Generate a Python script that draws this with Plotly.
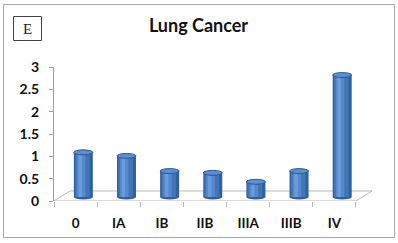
import plotly.graph_objects as go

# ---- data ----
stages = ["0", "IA", "IB", "IIB", "IIIA", "IIIB", "IV"]
values = [1.0, 0.92, 0.58, 0.54, 0.34, 0.58, 2.73]
y_ticks = [0, 0.5, 1, 1.5, 2, 2.5, 3]
y_tick_text = ["0", "0.5", "1", "1.5", "2", "2.5", "3"]
title_text = "Lung Cancer"
panel_label = "E"

# ---- styling / geometry constants ----
W, H = 398, 243
ML, MR, MT, MB = 54, 26, 67, 42
n = len(stages)
depth_x = 0.371          # 3D floor depth in category units
depth_y = 0.224          # 3D floor depth in value units
bar_shift = 0.18         # bars sit in the middle of the floor depth
bar_w = 0.44
base_off = 0.09          # bar base offset (value units) for the floor mid-depth
ell_h = 0.11             # ellipse full height in value units

idx = list(range(n))
FAM = "Lato, Open Sans, Arial"

fig = go.Figure()

# cylinder body made of layered bars (shading)
layers = [
    (bar_w, 0.0, "#2f5f9c"),
    (bar_w * 0.78, -0.02, "#4275b6"),
    (bar_w * 0.45, -0.05, "#5588cc"),
    (bar_w * 0.18, -0.07, "#6a9bdb"),
]
for w, dx, col in layers:
    fig.add_trace(go.Bar(
        x=idx, y=values, yaxis="y2",
        width=w, offset=bar_shift + dx - w / 2,
        marker=dict(color=col, line=dict(width=0)),
        hoverinfo="skip", showlegend=False,
    ))

PW, PH = W - ML - MR, H - MT - MB
def px(xp):
    return (xp - ML) / PW
def py(yp):
    return 1 - (yp - MT) / PH

shapes = []
floor_col = "#b8b8b8"
x0, x1 = -0.5, n - 0.5
shapes += [
    dict(type="line", xref="x", yref="y", x0=x0, y0=0, x1=x1, y1=0, line=dict(color=floor_col, width=1), layer="below"),
    dict(type="line", xref="x", yref="y", x0=x1, y0=0, x1=x1 + depth_x, y1=depth_y, line=dict(color=floor_col, width=1), layer="below"),
    dict(type="line", xref="x", yref="y", x0=x0 + depth_x, y0=depth_y, x1=x1 + depth_x, y1=depth_y, line=dict(color=floor_col, width=1), layer="below"),
    dict(type="line", xref="x", yref="y", x0=x0, y0=0, x1=x0 + depth_x, y1=depth_y, line=dict(color=floor_col, width=1), layer="below"),
]
for i, v in zip(idx, values):
    cx = i + bar_shift
    shapes.append(dict(type="circle", xref="x", yref="y2",
                       x0=cx - bar_w / 2, x1=cx + bar_w / 2,
                       y0=-ell_h / 2, y1=ell_h / 2,
                       fillcolor="#2f5f9c", line=dict(width=0), layer="below"))
    shapes.append(dict(type="circle", xref="x", yref="y2",
                       x0=cx - bar_w / 2, x1=cx + bar_w / 2,
                       y0=v - ell_h / 2, y1=v + ell_h / 2,
                       fillcolor="#5a8fd2", line=dict(color="#2c5894", width=1), layer="above"))
# outer border and panel label box
shapes.append(dict(type="rect", xref="paper", yref="paper",
                   x0=px(3.5), x1=px(394.5), y0=py(237.5), y1=py(4.5),
                   line=dict(color="#a8a8a8", width=1), fillcolor="rgba(0,0,0,0)", layer="below"))
shapes.append(dict(type="rect", xref="paper", yref="paper",
                   x0=px(13.5), x1=px(41.5), y0=py(40.5), y1=py(16.5),
                   line=dict(color="#444444", width=1), fillcolor="white", layer="below"))

fig.update_layout(
    width=W, height=H,
    margin=dict(l=ML, r=MR, t=MT, b=MB),
    paper_bgcolor="white", plot_bgcolor="white",
    barmode="overlay",
    shapes=shapes,
    title=dict(text=title_text, x=198.5 / W, xanchor="center", y=1 - 26 / H, yanchor="middle",
               font=dict(family=FAM, size=18, color="#111111", weight="bold")),
    annotations=[dict(text=panel_label, xref="paper", yref="paper",
                      x=px(27.5), y=py(28.5),
                      xanchor="center", yanchor="middle", showarrow=False,
                      font=dict(family="Liberation Serif, Times New Roman", size=15, color="#222222"))],
    xaxis=dict(range=[-0.5, n - 0.5 + depth_x], tickmode="array", tickvals=idx, ticktext=stages,
               ticks="", showline=False, showgrid=False, zeroline=False,
               ticklabelstandoff=12,
               tickfont=dict(family=FAM, size=13.5, color="#111111", weight="bold"),
               minor=dict(tickmode="array", tickvals=[i - 0.5 for i in range(n + 1)],
                          ticks="outside", ticklen=5, tickcolor=floor_col, showgrid=False)),
    yaxis=dict(range=[0, 3], tickmode="array", tickvals=y_ticks, ticktext=y_tick_text,
               showline=True, linecolor="#a0a0a0", linewidth=1,
               ticks="outside", ticklen=4, tickcolor="#a0a0a0",
               showgrid=False, zeroline=False, ticklabelstandoff=7,
               tickfont=dict(family=FAM, size=14, color="#111111", weight="bold")),
    yaxis2=dict(range=[-base_off, 3 - base_off], overlaying="y", visible=False),
)

fig.write_html("out.html", config={"displayModeBar": False},
               post_script="document.body.style.margin='0';")
